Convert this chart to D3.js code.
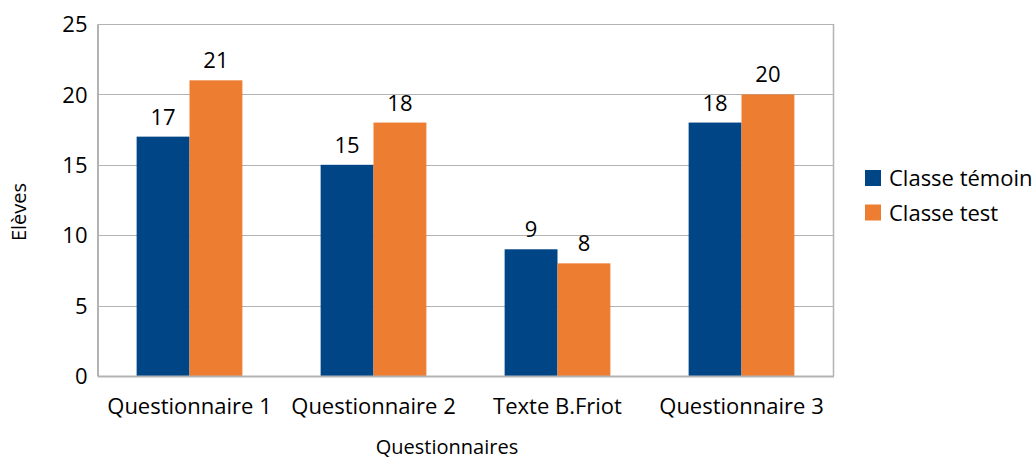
<!DOCTYPE html>
<html><head><meta charset="utf-8">
<script src="https://cdn.jsdelivr.net/npm/d3@7"></script>
<style>body{margin:0;background:#fff}svg{display:block}text{font-family:"Open Sans",Lato,sans-serif;fill:#000}</style>
</head><body><svg id="c" width="1036" height="461"></svg>
<script>
const categories = ["Questionnaire 1","Questionnaire 2","Texte B.Friot","Questionnaire 3"];
const seriesNames = ["Classe témoin","Classe test"];
const temoin = [17,15,9,18];
const test = [21,18,8,20];
const yTicks = [0,5,10,15,20,25];
const colors = ["#004586","#ed7d31"];
const FS = 22;

const svg = d3.select("#c");
const L=97.5, R=833.5, T=24, B=376;
const x = d3.scaleBand().domain(categories).range([L,R]).padding(0);
const inner = d3.scaleBand().domain(seriesNames).range([0, x.bandwidth()]).paddingInner(0).paddingOuter(0.74);
const y = d3.scaleLinear().domain([0,25]).range([B,T]);

svg.append("g").selectAll("line").data(yTicks.filter(d=>d>0)).join("line")
  .attr("x1",L).attr("x2",R).attr("y1",d=>Math.round(y(d))+0.5).attr("y2",d=>Math.round(y(d))+0.5)
  .attr("stroke","#b3b3b3").attr("stroke-width",1.2);
svg.append("line").attr("x1",R).attr("x2",R).attr("y1",T).attr("y2",B).attr("stroke","#b3b3b3").attr("stroke-width",1.5);

const data = categories.map((c,i)=>({c, vals:[temoin[i],test[i]]}));
const g = svg.append("g").selectAll("g").data(data).join("g").attr("transform",d=>`translate(${x(d.c)},0)`);
g.selectAll("rect").data(d=>d.vals.map((v,j)=>({v,s:seriesNames[j],j}))).join("rect")
  .attr("x",d=>inner(d.s)).attr("width",inner.bandwidth()).attr("y",d=>y(d.v)).attr("height",d=>B-y(d.v))
  .attr("fill",d=>colors[d.j]);
g.selectAll("text").data(d=>d.vals.map((v,j)=>({v,s:seriesNames[j],j}))).join("text")
  .attr("x",d=>inner(d.s)+inner.bandwidth()/2).attr("y",d=>y(d.v)-12)
  .attr("text-anchor","middle").attr("font-size",FS).text(d=>d.v);

const ya = d3.axisLeft(y).tickValues(yTicks).tickSize(0).tickPadding(10);
const yg = svg.append("g").attr("transform",`translate(${L},0)`).call(ya);
yg.select(".domain").attr("stroke","#b3b3b3").attr("stroke-width",2);
yg.selectAll("text").attr("font-size",FS).attr("dy","0.35em").style("font-family","Open Sans");
const xa = d3.axisBottom(x).tickSize(0).tickPadding(22);
const xg = svg.append("g").attr("transform",`translate(0,${B})`).call(xa);
xg.select(".domain").attr("stroke","#b3b3b3").attr("stroke-width",2);
xg.selectAll("text").attr("font-size",FS).style("font-family","Open Sans");

svg.append("text").attr("x",447).attr("y",454).attr("text-anchor","middle").attr("font-size",20).text("Questionnaires");
svg.append("text").attr("transform","translate(26,212) rotate(-90)").attr("text-anchor","middle").attr("font-size",20).text("Elèves");

const lg = svg.append("g").attr("transform","translate(865,170)");
seriesNames.forEach((s,i)=>{
  lg.append("rect").attr("x",0).attr("y",i*34.5).attr("width",16).attr("height",16).attr("fill",colors[i]);
  lg.append("text").attr("x",24).attr("y",i*34.5+16).attr("font-size",FS).text(s);
});
</script></body></html>
